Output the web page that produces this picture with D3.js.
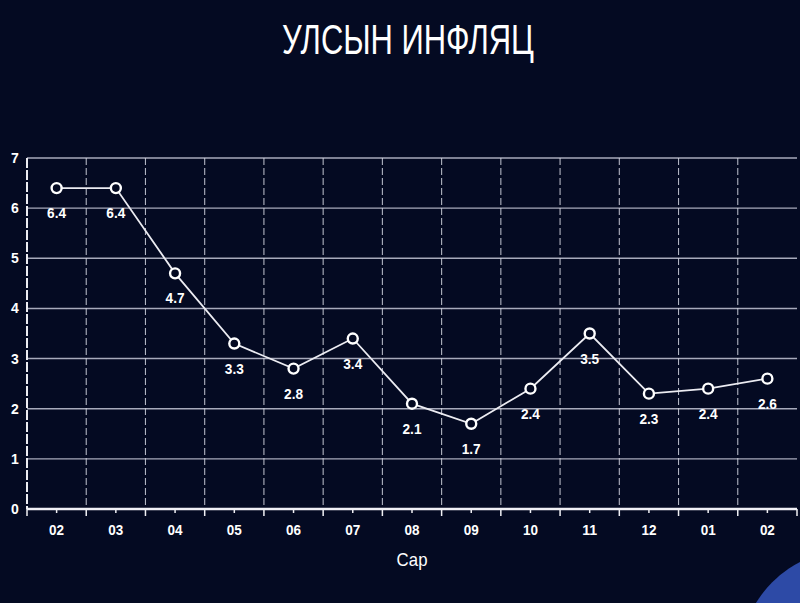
<!DOCTYPE html>
<html>
<head>
<meta charset="utf-8">
<script src="https://cdn.jsdelivr.net/npm/d3@7"></script>
<style>
  html, body { margin: 0; padding: 0; background: #040a22; overflow: hidden; }
  svg { display: block; }
</style>
</head>
<body>
<svg id="drawing_region"></svg>
<script>
// months (Сар) and inflation values
const months = ["02", "03", "04", "05", "06", "07", "08", "09", "10", "11", "12", "01", "02"];
const inflation = [6.4, 6.4, 4.7, 3.3, 2.8, 3.4, 2.1, 1.7, 2.4, 3.5, 2.3, 2.4, 2.6];
const yTicks = [0, 1, 2, 3, 4, 5, 6, 7];
const title = "УЛСЫН ИНФЛЯЦ";
const xTitle = "Сар";

const data = months.map((m, i) => ({ idx: i, month: m, value: inflation[i] }));

const config = {
  width: 800,
  height: 603,
  margin: { top: 158, right: 3, bottom: 94, left: 27 }
};

const font = "'Liberation Sans', Arial, sans-serif";

const svg = d3.select('#drawing_region')
  .attr('width', config.width)
  .attr('height', config.height);

// background
svg.append('rect')
  .attr('width', config.width).attr('height', config.height)
  .attr('fill', '#040a22');

// decorative ring bottom right
svg.append('circle')
  .attr('cx', 850).attr('cy', 660).attr('r', 110)
  .attr('fill', '#2d4aa6');
svg.append('circle')
  .attr('cx', 866).attr('cy', 672).attr('r', 90)
  .attr('fill', '#0b0b12');

const inner_width = config.width - config.margin.left - config.margin.right;
const inner_height = config.height - config.margin.top - config.margin.bottom;

const chart = svg.append('g')
  .attr('transform', `translate(${config.margin.left}, ${config.margin.top})`);

const xscale = d3.scaleBand()
  .domain(data.map(d => d.idx))
  .range([0, inner_width]);

const yscale = d3.scaleLinear()
  .domain([0, 7])
  .range([inner_height, 0]);

const cx = d => xscale(d.idx) + xscale.bandwidth() / 2;

// horizontal grid
chart.selectAll('.hgrid')
  .data(yTicks.filter(t => t > 0))
  .enter()
  .append('line')
  .attr('x1', 0).attr('x2', inner_width)
  .attr('y1', d => yscale(d)).attr('y2', d => yscale(d))
  .attr('stroke', '#c4c7d6')
  .attr('stroke-opacity', 0.85)
  .attr('stroke-width', 1.4);

// vertical dashed grid at band boundaries
const bounds = data.slice(1).map(d => xscale(d.idx));
chart.selectAll('.vgrid')
  .data(bounds)
  .enter()
  .append('line')
  .attr('x1', d => d).attr('x2', d => d)
  .attr('y1', 0).attr('y2', inner_height)
  .attr('stroke', '#d0d2de')
  .attr('stroke-opacity', 0.85)
  .attr('stroke-width', 1.1)
  .attr('stroke-dasharray', '7,3');

// y axis (dashed line)
chart.append('line')
  .attr('x1', 0).attr('x2', 0)
  .attr('y1', 0).attr('y2', inner_height)
  .attr('stroke', '#ececf2')
  .attr('stroke-width', 2)
  .attr('stroke-dasharray', '10,2');

chart.selectAll('.ylab')
  .data(yTicks)
  .enter()
  .append('text')
  .attr('x', -12)
  .attr('y', d => yscale(d) + 5)
  .attr('text-anchor', 'middle')
  .attr('fill', '#ffffff')
  .attr('font-family', font)
  .attr('font-weight', 'bold')
  .attr('font-size', 14)
  .text(d => d);

// x axis line
chart.append('line')
  .attr('x1', 0).attr('x2', inner_width)
  .attr('y1', inner_height).attr('y2', inner_height)
  .attr('stroke', '#f0f0f5')
  .attr('stroke-width', 2.5);

// ticks: small at centers, longer at boundaries
chart.selectAll('.ctick')
  .data(data)
  .enter()
  .append('line')
  .attr('x1', cx).attr('x2', cx)
  .attr('y1', inner_height).attr('y2', inner_height + 4)
  .attr('stroke', '#f0f0f5').attr('stroke-width', 1.5);

chart.selectAll('.btick')
  .data([0].concat(bounds).concat([inner_width]))
  .enter()
  .append('line')
  .attr('x1', d => d).attr('x2', d => d)
  .attr('y1', inner_height).attr('y2', inner_height + 7)
  .attr('stroke', '#f0f0f5').attr('stroke-width', 1.5);

chart.selectAll('.xlab')
  .data(data)
  .enter()
  .append('text')
  .attr('x', cx)
  .attr('y', inner_height + 26)
  .attr('text-anchor', 'middle')
  .attr('fill', '#ffffff')
  .attr('font-family', font)
  .attr('font-weight', 'bold')
  .attr('font-size', 14)
  .attr('textLength', 15)
  .attr('lengthAdjust', 'spacingAndGlyphs')
  .text(d => d.month);

// x axis title
svg.append('text')
  .attr('x', 412)
  .attr('y', 566)
  .attr('text-anchor', 'middle')
  .attr('fill', '#ffffff')
  .attr('font-family', font)
  .attr('font-size', 19)
  .attr('textLength', 31)
  .attr('lengthAdjust', 'spacingAndGlyphs')
  .text(xTitle);

// line
const line = d3.line()
  .x(cx)
  .y(d => yscale(d.value));

chart.append('path')
  .datum(data)
  .attr('d', line)
  .attr('fill', 'none')
  .attr('stroke', '#ececf2')
  .attr('stroke-width', 1.8);

chart.selectAll('.pt')
  .data(data)
  .enter()
  .append('circle')
  .attr('cx', cx)
  .attr('cy', d => yscale(d.value))
  .attr('r', 5)
  .attr('fill', '#040a22')
  .attr('stroke', '#ffffff')
  .attr('stroke-width', 2.4);

chart.selectAll('.vlab')
  .data(data)
  .enter()
  .append('text')
  .attr('x', cx)
  .attr('y', d => yscale(d.value) + 30)
  .attr('text-anchor', 'middle')
  .attr('fill', '#ffffff')
  .attr('font-family', font)
  .attr('font-weight', 'bold')
  .attr('font-size', 14)
  .attr('textLength', 19)
  .attr('lengthAdjust', 'spacingAndGlyphs')
  .text(d => d.value.toFixed(1));

// title
svg.append('text')
  .attr('x', 408)
  .attr('y', 54)
  .attr('text-anchor', 'middle')
  .attr('fill', '#ffffff')
  .attr('font-family', font)
  .attr('font-size', 42)
  .attr('textLength', 252)
  .attr('lengthAdjust', 'spacingAndGlyphs')
  .text(title);
</script>
</body>
</html>
